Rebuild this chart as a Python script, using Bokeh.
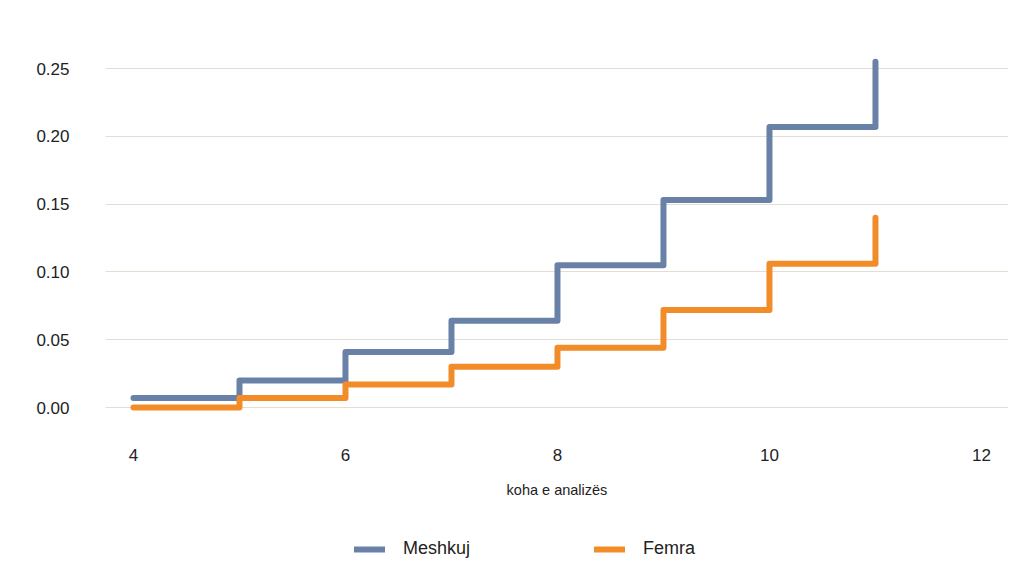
from bokeh.plotting import figure
from bokeh.layouts import column
from bokeh.models import Legend, LegendItem, Range1d, CustomJSTickFormatter
from bokeh.embed import file_html
from bokeh.resources import INLINE

time = [4, 5, 6, 7, 8, 9, 10, 11]
meshkuj = [0.007, 0.020, 0.041, 0.064, 0.105, 0.153, 0.207, 0.255]
femra = [0.000, 0.007, 0.017, 0.030, 0.044, 0.072, 0.106, 0.140]
x_ticks = [4, 6, 8, 10, 12]
y_ticks = [0.00, 0.05, 0.10, 0.15, 0.20, 0.25]

FONT = "Liberation Sans"
BLUE = "#6a81a7"
ORANGE = "#f28c28"

p = figure(frame_width=903, frame_height=374, output_backend="svg", toolbar_location=None,
           x_range=Range1d(3.736, 12.255), y_range=Range1d(-0.0059, 0.27),
           min_border_left=105, min_border_right=12, min_border_top=41,
           min_border_bottom=95)
p.outline_line_color = None
p.background_fill_color = "white"
p.border_fill_color = "white"

line_kw = dict(mode="after", line_width=6, line_cap="round", line_join="round")
p.step(time, meshkuj, line_color=BLUE, **line_kw)
p.step(time, femra, line_color=ORANGE, **line_kw)

p.xaxis.ticker = x_ticks
p.yaxis.ticker = y_ticks
p.yaxis.formatter = CustomJSTickFormatter(code="return tick.toFixed(2);")

for ax in (p.xaxis, p.yaxis):
    ax.axis_line_color = None
    ax.major_tick_line_color = None
    ax.minor_tick_line_color = None
    ax.major_tick_out = 0
    ax.major_tick_in = 0
    ax.major_label_text_font = FONT
    ax.major_label_text_font_size = "17px"
    ax.major_label_text_color = "#222222"

p.yaxis.major_label_standoff = 36
p.xaxis.major_label_standoff = 33
p.xaxis.axis_label = "koha e analizës"
p.xaxis.axis_label_text_font = FONT
p.xaxis.axis_label_text_font_size = "14.5px"
p.xaxis.axis_label_text_font_style = "normal"
p.xaxis.axis_label_text_color = "#222222"
p.xaxis.axis_label_standoff = 18

p.xgrid.grid_line_color = None
p.ygrid.grid_line_color = "#e3ddd4"
p.ygrid.grid_line_width = 1.2

# legend strip: same series drawn out of view so the legend can show their swatches
lg = figure(width=1020, height=74, output_backend="svg", toolbar_location=None,
            x_range=Range1d(-20, -19), y_range=Range1d(0, 1),
            min_border=0, x_axis_type=None, y_axis_type=None)
lg.outline_line_color = None
lg.xgrid.grid_line_color = None
lg.ygrid.grid_line_color = None
lr1 = lg.step(time, meshkuj, line_color=BLUE, **line_kw)
lr2 = lg.step(time, femra, line_color=ORANGE, **line_kw)

legend = Legend(items=[LegendItem(label="Meshkuj", renderers=[lr1]),
                       LegendItem(label="Femra", renderers=[lr2])],
                orientation="horizontal", location=(249, 25),
                label_text_font=FONT, label_text_font_size="18px",
                label_text_color="#222222",
                glyph_width=31, label_standoff=18, spacing=124,
                border_line_color=None, background_fill_alpha=0,
                margin=0, padding=4)
lg.add_layout(legend, "center")

layout = column(p, lg, spacing=0)
open("out.html", "w").write(file_html(layout, INLINE))
